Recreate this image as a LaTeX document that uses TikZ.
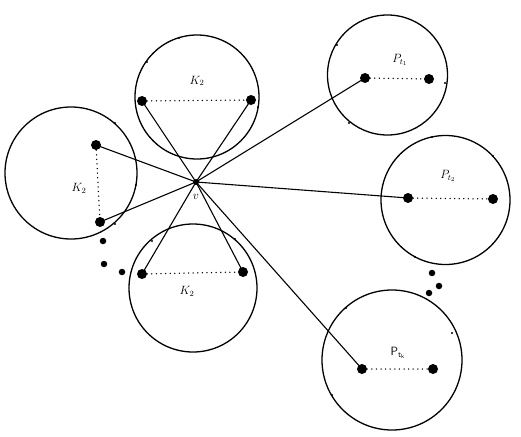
\documentclass[tikz,border=0pt]{standalone}
\usetikzlibrary{calc}
\begin{document}
\begin{tikzpicture}[x=1pt,y=-1pt,
  ring/.style={draw,line width=1.3pt},
  vtx/.style={circle,fill,inner sep=0pt,minimum size=10pt},
  edot/.style={circle,fill,inner sep=0pt,minimum size=6.5pt},
  tick/.style={circle,fill,inner sep=0pt,minimum size=2.2pt},
  edge/.style={line width=1.1pt},
  dots/.style={line width=1.5pt,line cap=round,dash pattern=on 0pt off 4.6pt},
  lab/.style={font=\large}]
\useasboundingbox (0,0) rectangle (521,436);
% circles
\node[ring,circle,minimum size=124pt,inner sep=0pt] (C1) at (197,97) {};
\node[ring,circle,minimum size=132pt,inner sep=0pt] (C2) at (71,173) {};
\node[ring,circle,minimum size=128pt,inner sep=0pt] (C3) at (193,288) {};
\node[ring,circle,minimum size=120pt,inner sep=0pt] (C4) at (387.5,75) {};
\node[ring,circle,minimum size=129pt,inner sep=0pt] (C5) at (445.5,200) {};
\node[ring,circle,minimum size=140pt,inner sep=0pt] (C6) at (392,360) {};
% ticks on circles
\foreach \p in {(179,38),(147,62),(258,107),(115,123),(136,185),(115,224),(152,241),(235,239),(337,45),(445,83),(349,123),(432,137),(493,156),(415,257),(346,308),(452,333),(332,395)}
  \node[tick] at \p {};
% labels
\node[lab] (L1) at (197,81) {$K_2$};
\node[lab] (L2) at (79,188) {$K_2$};
\node[lab] (L3) at (187,291) {$K_2$};
\node[lab] (L4) at (400,60) {$P_{t_1}$};
\node[lab] (L5) at (448,176) {$P_{t_2}$};
\node[lab] (L6) at (398,353) {$\mathsf{P}_{\mathsf{t}_\mathsf{k}}$};
% vertices
\node[circle,fill,inner sep=0pt,minimum size=6pt] (v) at (196,182) {};
\node[lab] (vl) at (196,197) {$v$};
\node[vtx] (a1) at (142,101) {};
\node[vtx] (a2) at (251,100) {};
\node[vtx] (b1) at (96,145) {};
\node[vtx] (b2) at (100,222) {};
\node[vtx] (c1) at (142,274) {};
\node[vtx] (c2) at (243,272) {};
\node[vtx] (d1) at (365,78) {};
\node[vtx] (d2) at (429,79) {};
\node[vtx] (e1) at (408,198) {};
\node[vtx] (e2) at (493,199) {};
\node[vtx] (f1) at (362,369) {};
\node[vtx] (f2) at (433,369) {};
% dotted edges
\draw[dots] (a1) -- (a2);
\draw[dots] (b1) -- (b2);
\draw[dots] (c1) -- (c2);
\draw[dots] (d1) -- (d2);
\draw[dots] (e1) -- (e2);
\draw[dots] (f1) -- (f2);
% edges to v
\foreach \n in {a1,a2,b1,b2,c1,c2,d1,e1,f1}
  \draw[edge] (v.center) -- (\n.center);
% ellipsis dots
\node[edot] (x1) at (103,241) {};
\node[edot] (x2) at (104,264) {};
\node[edot] (x3) at (122,272) {};
\node[edot] (y1) at (432,273) {};
\node[edot] (y2) at (439,286) {};
\node[edot] (y3) at (429,293) {};
\end{tikzpicture}
\end{document}
